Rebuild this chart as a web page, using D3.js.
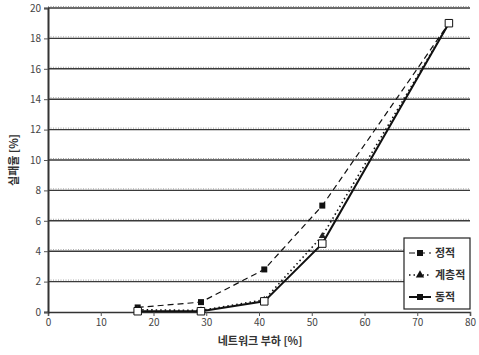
<!DOCTYPE html>
<html>
<head>
<meta charset="utf-8">
<script src="https://cdn.jsdelivr.net/npm/d3@7"></script>
<style>
  body { margin: 0; background: #fff; }
  text { font-family: "Noto Sans CJK KR", "DejaVu Sans", sans-serif; }
</style>
</head>
<body>
<script>
// network load [%]
const loads = [17, 29, 41, 52, 76];
// failure rate [%]
const staticRate = [0.3, 0.65, 2.8, 7.0, 19.0];
const hierRate = [0.15, 0.1, 0.8, 5.0, 19.0];
const dynamicRate = [0.05, 0.05, 0.7, 4.5, 19.0];
const seriesNames = ["정적", "계층적", "동적"];
const xTicks = d3.range(0, 81, 10);
const yTicks = d3.range(0, 21, 2);

const width = 479, height = 355;
const margin = { top: 8, right: 9, bottom: 43, left: 48 };

const x = d3.scaleLinear().domain([0, 80]).range([margin.left, width - margin.right]);
const y = d3.scaleLinear().domain([0, 20]).range([height - margin.bottom, margin.top]);

const svg = d3.select("body").append("svg")
    .attr("width", width)
    .attr("height", height);

// horizontal grid (solid line with a faint dotted twin, as in the scan)
const grid = svg.append("g");
grid.selectAll("line.solid")
    .data(yTicks.filter(d => d > 0))
    .join("line")
    .attr("class", "solid")
    .attr("x1", x(0)).attr("x2", x(80))
    .attr("y1", d => y(d)).attr("y2", d => y(d))
    .attr("stroke", "#3a3a3a")
    .attr("stroke-width", 1.4);
grid.selectAll("line.dot")
    .data(yTicks.filter(d => d > 0))
    .join("line")
    .attr("class", "dot")
    .attr("x1", x(0)).attr("x2", x(80))
    .attr("y1", d => y(d) - 1.5).attr("y2", d => y(d) - 1.5)
    .attr("stroke", "#888")
    .attr("stroke-width", 0.8)
    .attr("stroke-dasharray", "1,1.5");

// axes
const xAxis = d3.axisBottom(x).tickValues(xTicks).tickSize(4).tickPadding(3);
const yAxis = d3.axisLeft(y).tickValues(yTicks).tickSize(4).tickPadding(3);

svg.append("g")
    .attr("transform", `translate(0,${y(0)})`)
    .call(xAxis)
    .call(g => g.select(".domain").attr("stroke", "#333").attr("stroke-width", 1.5))
    .call(g => g.selectAll(".tick line").attr("stroke", "#555"))
    .call(g => g.selectAll(".tick text").attr("font-size", 10).attr("fill", "#444"));

svg.append("g")
    .attr("transform", `translate(${x(0)},0)`)
    .call(yAxis)
    .call(g => g.select(".domain").attr("stroke", "#333").attr("stroke-width", 2))
    .call(g => g.selectAll(".tick line").attr("stroke", "#555"))
    .call(g => g.selectAll(".tick text").attr("font-size", 10).attr("fill", "#444"));

// axis titles
svg.append("text")
    .attr("x", 260).attr("y", 345)
    .attr("text-anchor", "middle")
    .attr("font-size", 11).attr("font-weight", "bold").attr("fill", "#333")
    .text("네트워크 부하 [%]");

svg.append("text")
    .attr("transform", `translate(18,${160}) rotate(-90)`)
    .attr("text-anchor", "middle")
    .attr("font-size", 11).attr("font-weight", "bold").attr("fill", "#333")
    .text("실패율 [%]");

const line = d3.line().x(d => x(d[0])).y(d => y(d[1]));
const series = [
    { name: seriesNames[0], values: staticRate, dash: "6,4", width: 1.2, marker: "filled" },
    { name: seriesNames[1], values: hierRate, dash: "1.5,3", width: 1.6, marker: "triangle" },
    { name: seriesNames[2], values: dynamicRate, dash: null, width: 2, marker: "open" }
];

const plot = svg.append("g");
series.forEach(s => {
    const pts = loads.map((l, i) => [l, s.values[i]]);
    plot.append("path")
        .datum(pts)
        .attr("d", line)
        .attr("fill", "none")
        .attr("stroke", "#111")
        .attr("stroke-width", s.width)
        .attr("stroke-dasharray", s.dash);
    const m = plot.append("g").selectAll("path")
        .data(pts)
        .join("path")
        .attr("transform", d => `translate(${x(d[0])},${y(d[1])})`);
    if (s.marker === "triangle") {
        m.attr("d", d3.symbol(d3.symbolTriangle, 22)).attr("fill", "#222");
    } else if (s.marker === "filled") {
        m.attr("d", d3.symbol(d3.symbolSquare, 36)).attr("fill", "#111");
    } else {
        m.attr("d", d3.symbol(d3.symbolSquare, 56)).attr("fill", "#fff")
            .attr("stroke", "#111").attr("stroke-width", 1);
    }
});

// legend
const lg = svg.append("g").attr("transform", "translate(404,238)");
lg.append("rect")
    .attr("width", 66).attr("height", 71)
    .attr("fill", "#fff").attr("stroke", "#222").attr("stroke-width", 1.2);
series.forEach((s, i) => {
    const g = lg.append("g").attr("transform", `translate(0,${15 + i * 22})`);
    g.append("line")
        .attr("x1", 5).attr("x2", 27)
        .attr("stroke", "#111")
        .attr("stroke-width", s.width)
        .attr("stroke-dasharray", s.dash);
    g.append("path")
        .attr("transform", "translate(16,0)")
        .attr("d", d3.symbol(s.marker === "triangle" ? d3.symbolTriangle : d3.symbolSquare, s.marker === "triangle" ? 30 : 36))
        .attr("fill", "#111");
    g.append("text")
        .attr("x", 31).attr("y", 4)
        .attr("font-size", 11).attr("font-weight", "bold").attr("fill", "#333")
        .text(s.name);
});
</script>
</body>
</html>
